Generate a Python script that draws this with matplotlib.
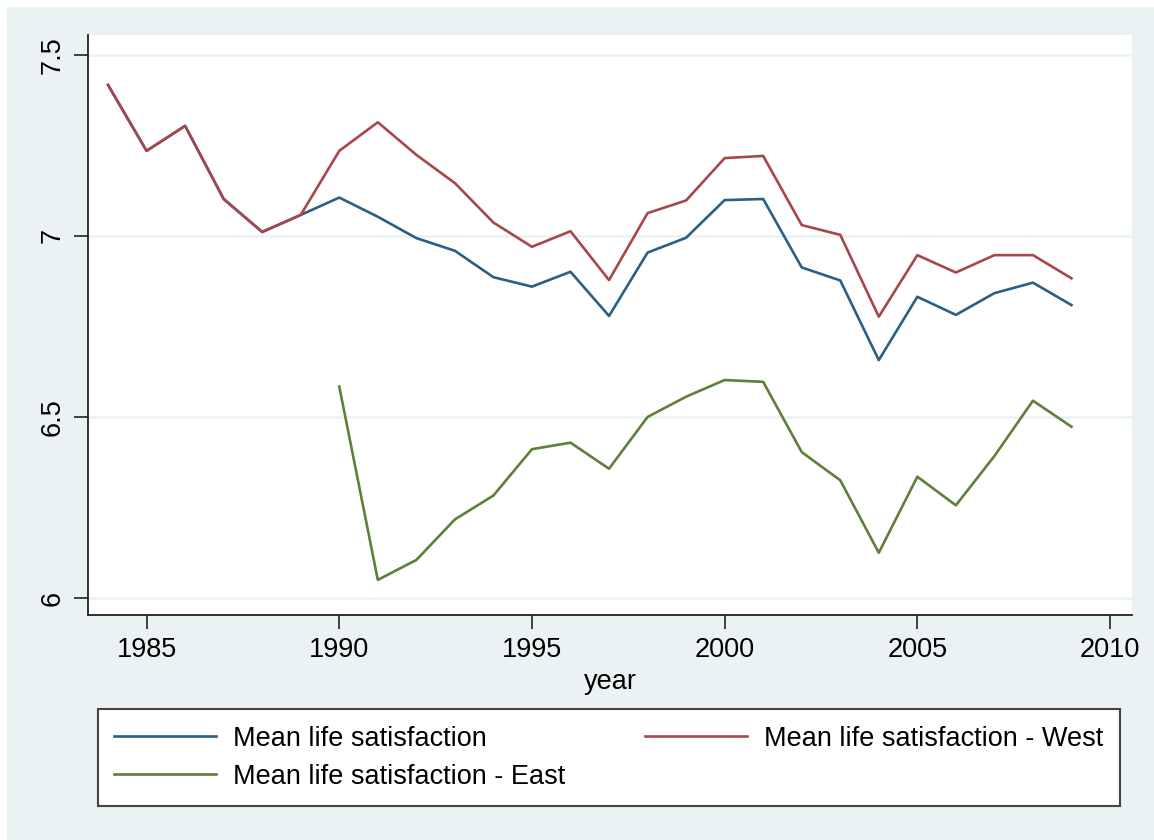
import matplotlib.pyplot as plt
from matplotlib.patches import Rectangle

plt.rcParams['font.family'] = ['Liberation Sans', 'DejaVu Sans']

# yearly means of life satisfaction
years = list(range(1984, 2010))
total = [7.417, 7.235, 7.304, 7.102, 7.011, 7.058, 7.106, 7.053, 6.994, 6.959,
         6.886, 6.860, 6.901, 6.779, 6.954, 6.995, 7.099, 7.102, 6.913, 6.877,
         6.657, 6.832, 6.782, 6.842, 6.871, 6.809]
west = [7.417, 7.235, 7.304, 7.102, 7.011, 7.058, 7.235, 7.314, 7.224, 7.146,
        7.037, 6.970, 7.013, 6.878, 7.063, 7.098, 7.215, 7.221, 7.030, 7.003,
        6.777, 6.947, 6.899, 6.947, 6.947, 6.883]
east_years = list(range(1990, 2010))
east = [6.584, 6.050, 6.105, 6.217, 6.283, 6.411, 6.429, 6.357, 6.500, 6.556,
        6.602, 6.597, 6.403, 6.325, 6.125, 6.335, 6.256, 6.392, 6.545, 6.473]

labels = ['Mean life satisfaction', 'Mean life satisfaction - West',
          'Mean life satisfaction - East']
colors = ['#2a5f86', '#a8474b', '#5f7f3a']
bg = '#eaf2f3'

W, H = 1154, 840
fig = plt.figure(figsize=(W / 100, H / 100), dpi=100, facecolor='white')

# graph region background (thin white border top/left)
fig.patches.append(Rectangle((7 / W, 0), 1, 1 - 7 / H, transform=fig.transFigure,
                             facecolor=bg, edgecolor='none', zorder=-10))

ax = fig.add_axes([88 / W, 1 - 615 / H, (1132 - 88) / W, (615 - 35) / H])
ax.set_zorder(2)
ax.set_facecolor('white')

l1, = ax.plot(years, total, color=colors[0], lw=1.9)
l2, = ax.plot(years, west, color=colors[1], lw=1.9)
l3, = ax.plot(east_years, east, color=colors[2], lw=1.9)

ax.set_xlim(1983.48, 2010.57)
ax.set_ylim(5.953, 7.555)
ax.set_xticks([1985, 1990, 1995, 2000, 2005, 2010])
ax.set_yticks([6, 6.5, 7, 7.5])
ax.set_yticklabels(['6', '6.5', '7', '7.5'], rotation=90, va='center')
ax.tick_params(labelsize=19.5, length=10, width=1.2, color='#222222', pad=6)
ax.grid(axis='y', color=bg, lw=1.8)
ax.set_axisbelow(True)

for s in ['top', 'right']:
    ax.spines[s].set_visible(False)
for s in ['left', 'bottom']:
    ax.spines[s].set_color('#222222')
    ax.spines[s].set_linewidth(1.3)

ax.set_xlabel('year', fontsize=19.5, labelpad=4)

# legend order: total, west / east
leg = fig.legend([l1, l3, l2], [labels[0], labels[2], labels[1]], ncol=2,
                 loc='lower left', mode='expand',
                 bbox_to_anchor=(98 / W, 1 - 806 / H, (1120 - 98) / W, (806 - 710) / H),
                 fontsize=19.5, handlelength=3.75, handletextpad=0.65,
                 labelspacing=0.45, borderaxespad=0, borderpad=0.6,
                 fancybox=False, framealpha=1, edgecolor='#444444',
                 facecolor='white')
leg.get_frame().set_linewidth(1.5)

fig.savefig('out.png', dpi=100, facecolor=fig.get_facecolor())
